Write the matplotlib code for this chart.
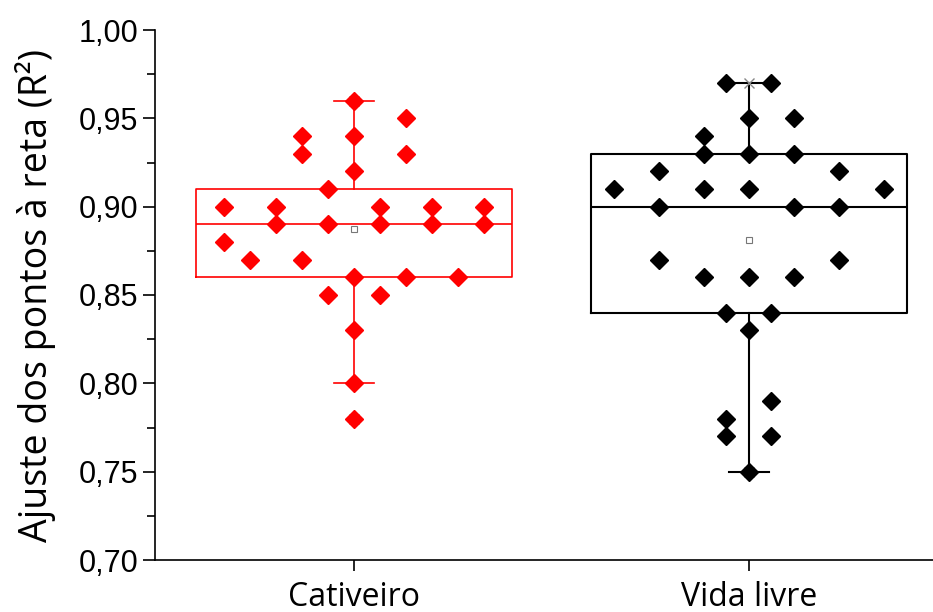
import numpy as np
import matplotlib.pyplot as plt

# groups and box statistics
categories = ["Cativeiro", "Vida livre"]
q1 = [0.86, 0.84]
medians = [0.89, 0.90]
q3 = [0.91, 0.93]
whisker_lo = [0.80, 0.75]
whisker_hi = [0.96, 0.97]
means = [0.8875, 0.881]
data_min = [0.78, 0.75]
data_max = [0.96, 0.97]

# individual points: value and slot (horizontal spread index)
cativeiro_vals = [0.96, 0.95, 0.94, 0.94, 0.93, 0.93, 0.92, 0.91,
                  0.90, 0.90, 0.90, 0.90, 0.90,
                  0.89, 0.89, 0.89, 0.89, 0.89,
                  0.88, 0.87, 0.87, 0.86, 0.86, 0.86,
                  0.85, 0.85, 0.83, 0.80, 0.78]
cativeiro_slots = [0, 2, -2, 0, -2, 2, 0, -1,
                   -5, -3, 1, 3, 5,
                   -3, -1, 1, 3, 5,
                   -5, -4, -2, 0, 2, 4,
                   -1, 1, 0, 0, 0]

vida_vals = [0.97, 0.97, 0.95, 0.95, 0.94, 0.93, 0.93, 0.93,
             0.92, 0.92, 0.91, 0.91, 0.91, 0.91,
             0.90, 0.90, 0.90, 0.87, 0.87, 0.86, 0.86, 0.86,
             0.84, 0.84, 0.83, 0.79, 0.78, 0.77, 0.77, 0.75]
vida_slots = [-1, 1, 0, 2, -2, -2, 0, 2,
              -4, 4, -6, -2, 0, 6,
              -4, 2, 4, -4, 4, -2, 0, 2,
              -1, 1, 0, 1, -1, -1, 1, 0]

colors = ["#ff0000", "black"]
slot_step = [0.066, 0.057]

fig = plt.figure(figsize=(9.33, 6.12), dpi=100)
ax = fig.add_axes([155 / 933, 52 / 612, 1 - 155 / 933, 530 / 612])

positions = [1, 2]
for i, pos in enumerate(positions):
    stats = [dict(med=medians[i], q1=q1[i], q3=q3[i],
                  whislo=whisker_lo[i], whishi=whisker_hi[i],
                  mean=means[i], fliers=[])]
    c = colors[i]
    lw = 1.2 if i == 0 else 1.5
    ax.bxp(stats, positions=[pos], widths=0.8, capwidths=0.1,
           showmeans=True, patch_artist=False, manage_ticks=False,
           boxprops=dict(color=c, lw=lw),
           whiskerprops=dict(color=c, lw=lw),
           capprops=dict(color=c, lw=lw),
           medianprops=dict(color=c, lw=lw),
           meanprops=dict(marker="s", markerfacecolor="white",
                          markeredgecolor="#777777", markersize=5,
                          markeredgewidth=0.8))
    # min / max markers (mostly hidden under the diamonds)
    ax.plot([pos, pos], [data_min[i], data_max[i]], ls="none", marker="x",
            color="#888888", markersize=7, mew=1, zorder=2)

ax.plot(1 + np.array(cativeiro_slots) * slot_step[0], cativeiro_vals,
        ls="none", marker="D", color=colors[0], markersize=9.5, zorder=3)
ax.plot(2 + np.array(vida_slots) * slot_step[1], vida_vals,
        ls="none", marker="D", color=colors[1], markersize=9.5, zorder=3)

ax.set_xlim(0.496, 2.466)
ax.set_ylim(0.70, 1.00)
ax.set_xticks(positions)
ax.set_xticklabels(categories, fontfamily="Open Sans", fontsize=23)
yt = np.arange(0.70, 1.001, 0.05)
ax.set_yticks(yt)
ax.set_yticklabels([f"{v:.2f}".replace(".", ",") for v in yt],
                   fontfamily="Liberation Sans", fontsize=22)
ax.set_yticks(np.arange(0.725, 1.0, 0.05), minor=True)
ax.tick_params(axis="y", which="major", length=9, width=1.2, pad=3)
ax.tick_params(axis="y", which="minor", length=6, width=1.2)
ax.tick_params(axis="x", length=8, width=1.2, pad=7)
ax.set_ylabel("Ajuste dos pontos à reta (R²)", fontfamily="Open Sans",
              fontsize=27, labelpad=16)

for side in ["top", "right"]:
    ax.spines[side].set_visible(False)
for side in ["left", "bottom"]:
    ax.spines[side].set_linewidth(1.2)

fig.savefig("out.png", dpi=100)
